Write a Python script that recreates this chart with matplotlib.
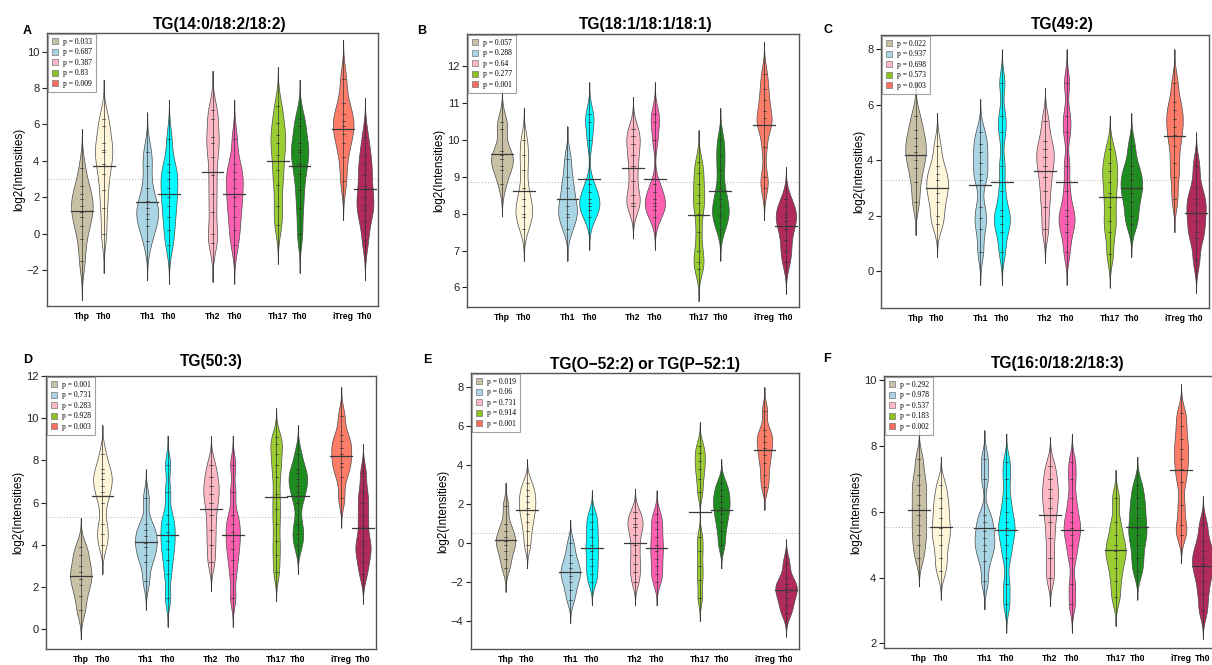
import numpy as np
import matplotlib
matplotlib.use("Agg")
import matplotlib.pyplot as plt
from matplotlib.patches import Patch

plt.rcParams['font.family'] = ['Liberation Sans', 'DejaVu Sans']

# ---------------- data ----------------
group_labels = ["Thp", "Th0", "Th1", "Th0", "Th2", "Th0", "Th17", "Th0", "iTreg", "Th0"]
positions = [1, 2, 4, 5, 7, 8, 10, 11, 13, 14]
colors = ["#C9C1A6", "#FFF6D9", "#A9D5E5", "#00FAFF", "#FFB8C6",
          "#FF5FB0", "#9ACD32", "#1E8C1E", "#FF7C69", "#B02A5C"]
legend_colors = ["#C9C1A6", "#A9D5E5", "#FFB8C6", "#8CC31E", "#FF6E5E"]

titles = ["TG(14:0/18:2/18:2)", "TG(18:1/18:1/18:1)", "TG(49:2)",
          "TG(50:3)", "TG(O\u221252:2) or TG(P\u221252:1)", "TG(16:0/18:2/18:3)"]
letters = ["A", "B", "C", "D", "E", "F"]

pvals_a = ["0.033", "0.687", "0.387", "0.83", "0.009"]
pvals_b = ["0.057", "0.288", "0.64", "0.277", "0.001"]
pvals_c = ["0.022", "0.937", "0.698", "0.573", "0.003"]
pvals_d = ["0.001", "0.731", "0.283", "0.928", "0.003"]
pvals_e = ["0.019", "0.06", "0.731", "0.914", "0.001"]
pvals_f = ["0.292", "0.978", "0.537", "0.183", "0.002"]

overall_means = [2.98, 8.85, 3.28, 5.3, 0.53, 5.53]

# panel A
a_thp = [-1.5, -0.3, 0.4, 0.9, 1.2, 1.5, 1.9, 2.2, 2.6, 3.6]
a_th0_1 = [0.0, 1.4, 2.4, 3.3, 3.8, 4.5, 4.6, 5.0, 5.9, 6.3]
a_th1 = [-0.4, 0.4, 0.8, 1.1, 1.4, 1.8, 2.5, 3.7, 4.5]
a_th0_2 = [-0.6, 0.2, 0.9, 1.5, 2.0, 2.5, 3.0, 3.4, 3.8, 5.2]
a_th2 = [-0.5, 0.0, 1.2, 2.2, 3.2, 4.2, 5.0, 5.3, 6.3, 6.8]
a_th17 = [0.5, 1.5, 2.7, 3.5, 4.3, 5.0, 5.4, 6.1, 7.0]
a_itreg = [2.9, 4.2, 5.0, 5.5, 5.9, 6.2, 6.6, 7.2, 8.5]
a_th0_3 = [-0.4, 0.7, 1.3, 1.6, 2.0, 2.6, 3.2, 3.8, 4.3, 5.3]
# panel B
b_thp = [8.8, 9.2, 9.3, 9.5, 9.6, 9.7, 10.3, 10.5]
b_th0_1 = [7.6, 7.9, 8.0, 8.2, 8.4, 8.7, 9.2, 9.6, 10.0]
b_th1 = [7.6, 7.9, 8.0, 8.2, 8.4, 8.7, 9.0, 9.5]
b_th0_2 = [7.9, 8.1, 8.2, 8.3, 8.4, 8.6, 8.8, 10.0, 10.5, 10.7]
b_th2 = [8.2, 8.3, 8.5, 8.9, 9.3, 9.6, 9.9, 10.1, 10.3]
b_th17 = [6.5, 6.7, 7.0, 7.5, 8.0, 8.3, 8.5, 8.8, 9.1, 9.4]
b_itreg = [8.7, 9.0, 9.8, 10.4, 10.4, 10.6, 10.8, 11.1, 11.4, 11.8]
b_th0_3 = [6.7, 7.0, 7.3, 7.6, 7.8, 7.9, 8.0, 8.2, 8.4]
# panel C
c_thp = [2.5, 3.2, 3.7, 4.0, 4.3, 4.5, 4.8, 5.1, 5.6]
c_th0_1 = [1.7, 2.0, 2.5, 2.8, 3.0, 3.3, 3.5, 3.8, 4.5]
c_th1 = [0.7, 1.5, 1.9, 2.3, 3.3, 3.5, 3.9, 4.3, 4.6, 5.0]
c_th0_2 = [0.7, 1.4, 1.7, 2.0, 2.2, 2.9, 3.8, 5.0, 5.6, 6.8]
c_th2 = [1.5, 2.3, 2.9, 3.4, 3.8, 4.1, 4.4, 4.7, 5.4]
c_th17 = [0.6, 1.4, 1.8, 2.3, 2.8, 3.2, 3.6, 3.9, 4.4]
c_itreg = [2.6, 3.4, 3.9, 4.5, 4.9, 5.2, 5.5, 5.8, 6.1, 6.8]
c_th0_3 = [0.4, 1.2, 1.4, 1.8, 2.1, 2.4, 2.6, 3.0, 3.8]
# panel D
d_thp = [0.9, 1.6, 2.1, 2.4, 2.7, 3.0, 3.5, 3.9]
d_th0_1 = [4.0, 4.5, 5.0, 6.0, 6.5, 6.8, 7.1, 7.4, 7.6, 8.3]
d_th1 = [2.3, 3.2, 3.5, 3.9, 4.1, 4.4, 4.7, 5.0, 6.2]
d_th0_2 = [1.5, 2.6, 3.3, 3.8, 4.2, 4.6, 5.0, 5.4, 6.5, 7.8]
d_th2 = [3.2, 4.0, 4.7, 5.4, 6.0, 6.4, 6.8, 7.2, 7.8]
d_th17 = [2.7, 3.5, 4.2, 5.0, 5.7, 6.4, 7.2, 7.8, 8.3, 8.8, 9.1]
d_itreg = [6.2, 7.2, 7.7, 7.9, 8.3, 8.6, 8.9, 9.2, 10.1]
d_th0_3 = [2.6, 3.2, 3.6, 4.0, 4.2, 4.9, 5.4, 6.0, 6.5, 7.4]
# panel E
e_thp = [-1.3, -0.8, -0.4, -0.1, 0.1, 0.3, 0.6, 1.0, 1.9]
e_th0_1 = [-0.1, 0.6, 1.1, 1.5, 1.8, 2.1, 2.4, 2.7, 3.1]
e_th1 = [-2.9, -2.4, -2.0, -1.7, -1.5, -1.3, -1.0, -0.6, 0.0]
e_th0_2 = [-2.0, -1.6, -1.2, -0.8, -0.4, -0.1, 0.3, 0.7, 1.1, 1.5]
e_th2 = [-2.0, -1.5, -1.1, -0.6, -0.1, 0.4, 0.8, 1.0, 1.3, 1.6]
e_th17 = [-2.8, -1.9, -1.2, -0.4, 0.3, 2.6, 3.3, 3.8, 4.2, 4.6, 5.0]
e_itreg = [2.9, 3.5, 4.1, 4.5, 4.9, 5.2, 5.5, 5.8, 6.8]
e_th0_3 = [-3.6, -3.2, -2.8, -2.5, -2.3, -2.1, -1.8, -1.0]
# panel F
f_thp = [4.6, 5.0, 5.3, 5.6, 5.9, 6.2, 6.5, 6.8, 7.1, 7.6]
f_th0_1 = [4.2, 4.6, 5.0, 5.3, 5.5, 5.8, 6.1, 6.4, 6.8]
f_th1 = [3.9, 4.5, 4.8, 5.0, 5.2, 5.4, 5.7, 5.9, 7.0, 7.6]
f_th0_2 = [3.2, 3.8, 4.6, 5.0, 5.3, 5.5, 5.7, 6.0, 6.4, 7.0, 7.5]
f_th2 = [4.0, 4.6, 5.2, 5.7, 6.1, 6.4, 6.7, 7.0, 7.4]
f_th17 = [3.4, 3.9, 4.3, 4.6, 4.8, 5.0, 5.3, 5.7, 6.4]
f_itreg = [5.3, 5.6, 6.2, 6.9, 7.3, 7.6, 7.9, 8.2, 8.6, 9.0]
f_th0_3 = [3.0, 3.5, 3.9, 4.2, 4.4, 4.6, 4.8, 5.1, 5.6]

panels = [
    [a_thp, a_th0_1, a_th1, a_th0_2, a_th2, a_th0_2, a_th17, a_th0_1, a_itreg, a_th0_3],
    [b_thp, b_th0_1, b_th1, b_th0_2, b_th2, b_th0_2, b_th17, b_th0_1, b_itreg, b_th0_3],
    [c_thp, c_th0_1, c_th1, c_th0_2, c_th2, c_th0_2, c_th17, c_th0_1, c_itreg, c_th0_3],
    [d_thp, d_th0_1, d_th1, d_th0_2, d_th2, d_th0_2, d_th17, d_th0_1, d_itreg, d_th0_3],
    [e_thp, e_th0_1, e_th1, e_th0_2, e_th2, e_th0_2, e_th17, e_th0_1, e_itreg, e_th0_3],
    [f_thp, f_th0_1, f_th1, f_th0_2, f_th2, f_th0_2, f_th17, f_th0_1, f_itreg, f_th0_3],
]
pvals = [pvals_a, pvals_b, pvals_c, pvals_d, pvals_e, pvals_f]
bandwidths = [0.72, 0.29, 0.4, 0.46, 0.4, 0.29]
ylims = [(-3.98, 11.03), (5.47, 12.88), (-1.34, 8.52), (-0.93, 12.0), (-5.44, 8.73), (1.86, 10.12)]
yticks = [np.arange(-2, 11, 2), np.arange(6, 13, 1), np.arange(0, 9, 2),
          np.arange(0, 13, 2), np.arange(-4, 9, 2), np.arange(2, 11, 2)]

# axes boxes in pixels: left, top, right, bottom
W, H = 1212, 665
boxes = [(47, 33, 378, 306), (467, 34, 799, 307), (881, 35, 1209, 308),
         (46, 376, 376, 649), (471, 373, 799, 649), (884, 376, 1216, 648)]
title_pos = [(220, 24), (646, 24), (1062, 24), (211, 362), (645, 364), (1058, 363)]
letter_pos = [(23, 31), (417, 31), (823, 30), (23, 360), (423, 360), (823, 359)]


def kde(samples, bw, grid):
    s = np.asarray(samples)[:, None]
    z = (grid[None, :] - s) / bw
    return np.exp(-0.5 * z ** 2).sum(axis=0) / (len(samples) * bw * np.sqrt(2 * np.pi))


fig = plt.figure(figsize=(W / 100, H / 100), dpi=100)

for k in range(6):
    l, t, r, b = boxes[k]
    ax = fig.add_axes([l / W, 1 - b / H, (r - l) / W, (b - t) / H])
    bw = bandwidths[k]
    data = panels[k]
    grids, dens = [], []
    for smp in data:
        g = np.linspace(min(smp) - 3 * bw, max(smp) + 3 * bw, 300)
        grids.append(g)
        dens.append(kde(smp, bw, g))
    scale = 0.5 / max(d.max() for d in dens)
    ax.axhline(overall_means[k], color="#b0b0b0", lw=0.7, ls=(0, (1, 2)), zorder=1)
    for i, smp in enumerate(data):
        x = positions[i]
        g, d = grids[i], dens[i] * scale
        ax.fill_betweenx(g, x - d, x + d, facecolor=colors[i], edgecolor="#4a4a4a",
                         linewidth=0.5, zorder=2)
        ax.plot([x, x], [g[0], g[-1]], color="#333333", lw=0.5, zorder=3)
        for v in smp:
            ax.plot([x - 0.07, x + 0.07], [v, v], color="#333333", lw=0.5, zorder=3)
        m = float(np.mean(smp))
        ax.plot([x - 0.5, x + 0.5], [m, m], color="#3a3a3a", lw=0.9, zorder=4)

    ax.set_xlim(-0.6, 14.6)
    ax.set_ylim(*ylims[k])
    ax.set_yticks(yticks[k])
    ax.set_yticklabels([("\u2212" + str(abs(int(v)))) if v < 0 else str(int(v)) for v in yticks[k]],
                       fontsize=8)
    ax.set_xticks(positions)
    ax.set_xticklabels(group_labels, fontsize=6.2, fontweight="bold")
    ax.tick_params(axis="x", length=0, pad=4)
    ax.tick_params(axis="y", length=3.5, width=0.8, pad=2, colors="#222222")
    ax.set_ylabel("log2(Intensities)", fontsize=8.5, labelpad=1)
    for sp in ax.spines.values():
        sp.set_color("#555555")
        sp.set_linewidth(1.0)

    handles = [Patch(facecolor=legend_colors[j], edgecolor="#777777", linewidth=0.5)
               for j in range(5)]
    labels = ["p = " + p for p in pvals[k]]
    leg = ax.legend(handles, labels, loc="upper left", frameon=True,
                    fancybox=False, borderaxespad=0.15, borderpad=0.5, labelspacing=0.32,
                    handlelength=0.8, handleheight=0.8, handletextpad=0.7,
                    prop={"family": "Liberation Serif", "size": 5.5})
    leg.get_frame().set_edgecolor("#8a8a8a")
    leg.get_frame().set_linewidth(0.8)

    tx, ty = title_pos[k]
    fig.text(tx / W, 1 - ty / H, titles[k], ha="center", va="center",
             fontsize=11.2, fontweight="bold")
    lx, ly = letter_pos[k]
    fig.text(lx / W, 1 - ly / H, letters[k], ha="left", va="center",
             fontsize=9, fontweight="bold")

fig.savefig("out.png", dpi=100)
